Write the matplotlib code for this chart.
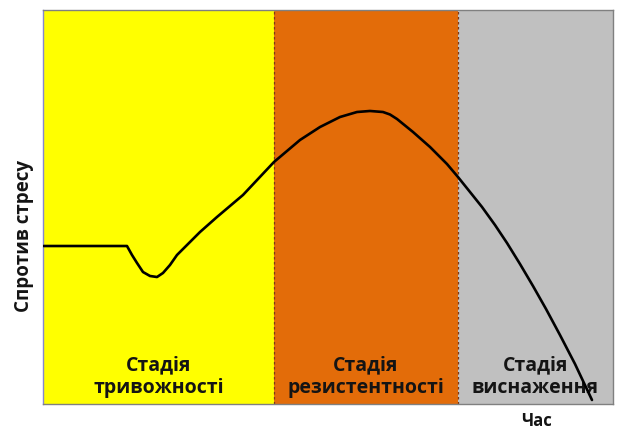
import matplotlib
matplotlib.use("Agg")
import matplotlib.pyplot as plt

# Curve of resistance to stress over time
time = [0, 14.66, 15.54, 16.42, 17.47, 18.70, 19.93, 20.98, 22.21, 23.44, 25.20, 27.48,
        30.46, 35.03, 40.47, 45.04, 48.55, 52.06, 55.05, 57.33, 59.61, 60.84, 62.07, 64.88,
        67.87, 70.85, 72.78, 74.89, 77.00, 79.28, 81.39, 83.67, 85.95, 88.24, 90.69,
        93.33, 96.31]
resistance = [40.10, 40.10, 37.82, 35.79, 33.50, 32.49, 32.23, 33.25, 35.28, 37.82, 40.36, 43.65,
              47.46, 53.05, 61.42, 67.01, 70.30, 72.84, 74.11, 74.37, 74.11, 73.48, 72.34, 69.04,
              65.23, 60.91, 57.61, 53.81, 50.00, 45.43, 40.86, 35.53, 29.95, 24.11, 17.51,
              10.15, 1.02]

stage_edges = [0, 40.5, 72.7, 100]
stage_labels = ["Стадія\nтривожності", "Стадія\nрезистентності", "Стадія\nвиснаження"]
stage_colors = ["#FFFF00", "#E36C09", "#C0C0C0"]

plt.rcParams['font.family'] = ['Open Sans', 'DejaVu Sans']

fig = plt.figure(figsize=(6.17, 4.30), dpi=100)
ax = fig.add_axes([43.5/617, 1 - 404/430, (613 - 43.5)/617, (404 - 10)/430])
ax.set_xlim(0, 100)
ax.set_ylim(0, 100)

for i in range(3):
    ax.axvspan(stage_edges[i], stage_edges[i + 1], color=stage_colors[i], zorder=0, lw=0)
    cx = (stage_edges[i] + stage_edges[i + 1]) / 2
    ax.text(cx, 1.5, stage_labels[i], ha='center', va='bottom', fontsize=14,
            fontweight='bold', color='#141414', linespacing=1.2, zorder=2)

for e in stage_edges[1:3]:
    ax.axvline(e, color='#7a3a1a', lw=0.9, ls=(0, (2, 2)), zorder=1)

ax.plot(time, resistance, color='black', lw=1.9, zorder=3,
        solid_joinstyle='round', solid_capstyle='round')

ax.set_xticks([])
ax.set_yticks([])
for s in ax.spines.values():
    s.set_color('#808080')
    s.set_linewidth(1.0)
ax.spines['left'].set_color('#8888cc')

fig.text(24/617, 1 - 236/430, "Спротив стресу", rotation=90, ha='center', va='center',
         fontsize=13.5, fontweight='bold', color='#141414')
fig.text(537/617, 1 - 412/430, "Час", ha='center', va='top',
         fontsize=12, fontweight='bold', color='#141414')

fig.savefig("out.png", dpi=100)
